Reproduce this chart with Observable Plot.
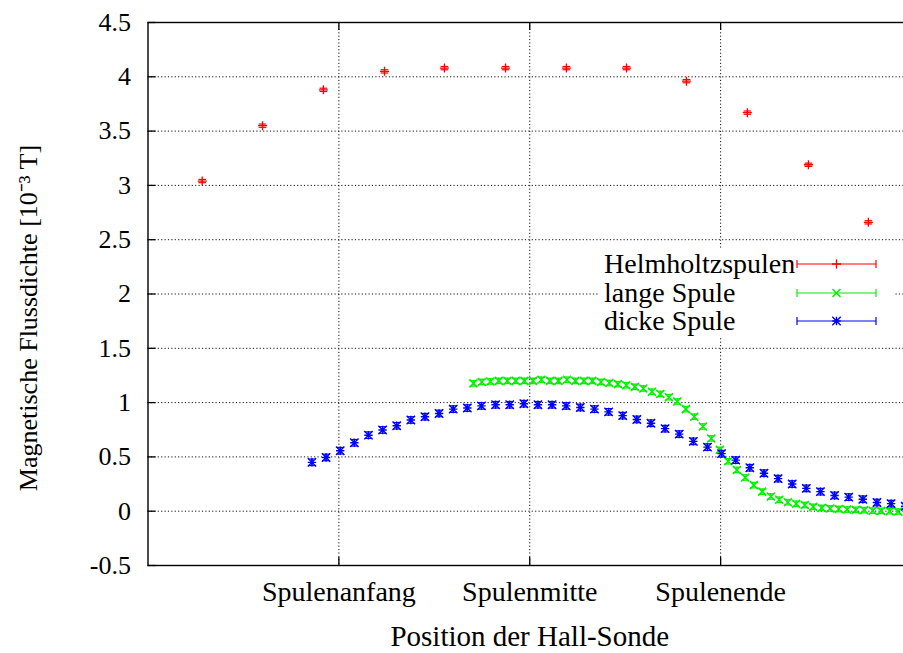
<!DOCTYPE html>
<html>
<head>
<meta charset="utf-8">
<script src="https://cdn.jsdelivr.net/npm/d3@7"></script>
<script src="https://cdn.jsdelivr.net/npm/@observablehq/plot@0.6"></script>
<style>
  html, body { margin: 0; padding: 0; background: #fff; overflow: hidden; }
  #wrap { position: relative; width: 903px; height: 653px; overflow: hidden; }
  #legend { position: absolute; left: 598px; top: 248px; width: 296px; height: 88px; background: #fff;
            font-family: "Liberation Serif", serif; font-size: 28px; color: #000; }
  .row { position: absolute; left: 0; width: 296px; height: 28px; }
  .row span { position: absolute; left: 6px; top: 0; line-height: 28px; white-space: nowrap; }
  .row svg { position: absolute; left: 195px; top: 0; }
</style>
</head>
<body>
<div id="wrap"><div id="legend"></div></div>
<script>
// ---- data ----
const yTicks = [-0.5, 0, 0.5, 1, 1.5, 2, 2.5, 3, 3.5, 4, 4.5];
const xTicks = [-10, 0, 10];
const xTickLabels = ["Spulenanfang", "Spulenmitte", "Spulenende"];
const xTitle = "Position der Hall-Sonde";
const yTitle = "Magnetische Flussdichte [10⁻³ T]";
const seriesNames = ["Helmholtzspulen", "lange Spule", "dicke Spule"];
const seriesColors = ["#ff0000", "#00f000", "#0000ff"];

const helmX = [-17.16, -14.0, -10.81, -7.61, -4.47, -1.27, 1.92, 5.07, 8.21, 11.4, 14.6, 17.74];
const helmY = [3.04, 3.55, 3.88, 4.05, 4.08, 4.08, 4.08, 4.08, 3.96, 3.67, 3.19, 2.66];
const helmErr = 0.015;

const langX = [-2.95, -2.51, -2.06, -1.62, -1.17, -0.73, -0.28, 0.17, 0.61, 1.06, 1.5, 1.95, 2.39, 2.84,
  3.28, 3.73, 4.17, 4.62, 5.06, 5.51, 5.95, 6.4, 6.84, 7.29, 7.73, 8.18, 8.62, 9.07, 9.51, 9.96, 10.4,
  10.85, 11.29, 11.74, 12.18, 12.63, 13.07, 13.52, 13.96, 14.41, 14.85, 15.3, 15.74, 16.19, 16.63,
  17.08, 17.52, 17.97, 18.41, 18.86, 19.3, 19.75];
const langY = [1.177, 1.19, 1.195, 1.2, 1.2, 1.2, 1.2, 1.2, 1.21, 1.2, 1.2, 1.21, 1.2, 1.2,
  1.2, 1.19, 1.18, 1.17, 1.16, 1.145, 1.13, 1.1, 1.08, 1.05, 1.01, 0.94, 0.87, 0.78, 0.67, 0.565, 0.46,
  0.38, 0.31, 0.24, 0.18, 0.135, 0.105, 0.083, 0.068, 0.057, 0.04, 0.03, 0.025, 0.02, 0.015,
  0.012, 0.01, 0.005, 0.003, 0.0, -0.003, -0.005];
const langErr = 0.025;

const dickX = [-11.41, -10.67, -9.93, -9.19, -8.45, -7.71, -6.97, -6.23, -5.49, -4.75, -4.01, -3.27,
  -2.53, -1.79, -1.05, -0.31, 0.43, 1.17, 1.91, 2.65, 3.39, 4.13, 4.87, 5.61, 6.35, 7.09, 7.83, 8.57,
  9.31, 10.05, 10.79, 11.53, 12.27, 13.01, 13.75, 14.49, 15.23, 15.97, 16.71, 17.45, 18.19, 18.93, 19.67];
const dickY = [0.45, 0.495, 0.557, 0.63, 0.70, 0.748, 0.787, 0.84, 0.87, 0.90, 0.94, 0.95,
  0.97, 0.98, 0.98, 0.99, 0.98, 0.98, 0.97, 0.955, 0.94, 0.915, 0.88, 0.845, 0.81, 0.76, 0.71, 0.643,
  0.59, 0.53, 0.47, 0.40, 0.35, 0.30, 0.25, 0.21, 0.18, 0.145, 0.13, 0.11, 0.08, 0.07, 0.045];
const dickErr = 0.03;

// ---- symbols ----
const rOf = (size) => Math.sqrt(size / Math.PI);
const plusSym = {draw(c, s) { const r = rOf(s); c.moveTo(-r, 0); c.lineTo(r, 0); c.moveTo(0, -r); c.lineTo(0, r); }};
const crossSym = {draw(c, s) { const r = rOf(s); c.moveTo(-r, -r); c.lineTo(r, r); c.moveTo(-r, r); c.lineTo(r, -r); }};
const starSym = {draw(c, s) { const r = rOf(s); c.moveTo(-r, 0); c.lineTo(r, 0); c.moveTo(0, -r); c.lineTo(0, r);
  c.moveTo(-r, -r); c.lineTo(r, r); c.moveTo(-r, r); c.lineTo(r, -r); }};
const hSym = {draw(c, s) { const r = rOf(s); c.moveTo(-r, 0); c.lineTo(r, 0); }};
const vSym = {draw(c, s) { const r = rOf(s); c.moveTo(0, -r); c.lineTo(0, r); }};

const toRows = (X, Y) => X.map((x, i) => ({x, y: Y[i]}));
const series = [
  {name: seriesNames[0], color: seriesColors[0], rows: toRows(helmX, helmY), err: helmErr, sym: plusSym, r: 4.5, sw: 1.3},
  {name: seriesNames[1], color: seriesColors[1], rows: toRows(langX, langY), err: langErr, sym: crossSym, r: 4, sw: 1.5},
  {name: seriesNames[2], color: seriesColors[2], rows: toRows(dickX, dickY), err: dickErr, sym: starSym, r: 4.2, sw: 1.4}
];

const xDomain = [-20, 20];
const yDomain = [-0.5, 4.5];
const font = "Liberation Serif";

const seriesMarks = series.flatMap(s => [
  Plot.ruleX(s.rows, {x: "x", y1: d => d.y - s.err, y2: d => d.y + s.err, stroke: s.color, strokeWidth: 1.2}),
  Plot.dot(s.rows, {x: "x", y: d => d.y - s.err, symbol: hSym, r: 3.8, stroke: s.color, fill: "none", strokeWidth: 1.2}),
  Plot.dot(s.rows, {x: "x", y: d => d.y + s.err, symbol: hSym, r: 3.8, stroke: s.color, fill: "none", strokeWidth: 1.2}),
  Plot.dot(s.rows, {x: "x", y: "y", symbol: s.sym, r: s.r, stroke: s.color, fill: "none", strokeWidth: s.sw})
]);

const chart = Plot.plot({
  width: 903,
  height: 653,
  marginLeft: 147.5,
  marginRight: -8,
  marginTop: 22,
  marginBottom: 88,
  style: {fontFamily: font, fontSize: "26px", overflow: "hidden", background: "#fff", color: "#000"},
  x: {domain: xDomain, range: [147.5, 911]},
  y: {domain: yDomain, range: [565, 22]},
  marks: [
    Plot.ruleY(yTicks.slice(1, -1), {y: d => d, stroke: "#111", strokeWidth: 1, strokeDasharray: "1.2,2.2"}),
    Plot.ruleX(xTicks, {x: d => d, stroke: "#111", strokeWidth: 1, strokeDasharray: "1.2,2.2"}),
    Plot.ruleY(yTicks, {y: d => d, x1: xDomain[0], x2: xDomain[0], insetRight: -8, stroke: "#000", strokeWidth: 1.3}),
    Plot.ruleX(xTicks, {x: d => d, y1: yDomain[0], y2: yDomain[0], insetBottom: 8, stroke: "#000", strokeWidth: 1.3}),
    Plot.ruleX(xTicks, {x: d => d, y1: yDomain[1], y2: yDomain[1], insetTop: 8, stroke: "#000", strokeWidth: 1.3}),
    Plot.frame({stroke: "#000", strokeWidth: 1.4}),
    Plot.axisY(yTicks, {tickSize: 0, tickPadding: 17, tickFormat: d => String(d), label: null, fontSize: 26, fontFamily: font, fill: "#000"}),
    Plot.axisX(xTicks, {tickSize: 0, tickPadding: 16, tickFormat: d => xTickLabels[xTicks.indexOf(d)], label: null, fontSize: 28, fontFamily: font, fill: "#000"}),
    ...seriesMarks,
    Plot.text([xTitle], {frameAnchor: "bottom", dy: 71, lineAnchor: "middle", textAnchor: "middle", fontSize: 29, fontFamily: font, fill: "#000"}),
    Plot.text([yTitle], {frameAnchor: "left", rotate: -90, dx: -119, dy: 24, lineAnchor: "middle", textAnchor: "middle", fontSize: 26, fontFamily: font, fill: "#000"})
  ]
});
document.getElementById("wrap").prepend(chart);

// ---- legend ----
const legend = d3.select("#legend");
const rowTops = [2, 31, 59];
series.forEach((s, i) => {
  const row = legend.append("div").attr("class", "row").style("top", rowTops[i] + "px");
  row.append("span").text(s.name);
  const svg = row.append("svg").attr("width", 90).attr("height", 28);
  const g = svg.append("g").attr("stroke", s.color).attr("fill", "none").attr("stroke-width", 1.2);
  g.append("line").attr("x1", 4).attr("x2", 83).attr("y1", 14).attr("y2", 14);
  g.append("path").attr("d", d3.symbol(vSym, 4 * 4 * Math.PI)()).attr("transform", "translate(4,14)");
  g.append("path").attr("d", d3.symbol(vSym, 4 * 4 * Math.PI)()).attr("transform", "translate(83,14)");
  g.append("path").attr("d", d3.symbol(s.sym, s.r * s.r * Math.PI)()).attr("transform", "translate(43.5,14)").attr("stroke-width", s.sw);
});
</script>
</body>
</html>
